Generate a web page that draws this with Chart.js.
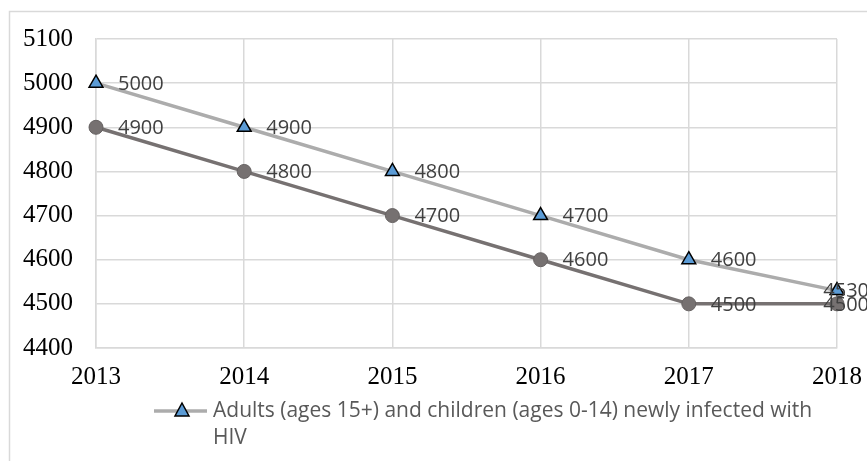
<!DOCTYPE html>
<html>
<head>
<meta charset="utf-8">
<script src="https://cdn.jsdelivr.net/npm/chart.js@4/dist/chart.umd.min.js"></script>
<style>
    html, body { margin: 0; padding: 0; background: #fff; }
    #wrap { position: relative; width: 867px; height: 461px; }
</style>
</head>
<body>
<div id="wrap"><canvas id="hivChart" width="867" height="461"></canvas></div>
<script>
const years = ['2013', '2014', '2015', '2016', '2017', '2018'];
const newlyInfected = [5000, 4900, 4800, 4700, 4600, 4530];
const secondSeries = [4900, 4800, 4700, 4600, 4500, 4500];
const legendLines = ['Adults (ages 15+) and children (ages 0-14) newly infected with', 'HIV'];

const LABEL_FONT = '20px "Open Sans"';
const AXIS_FONT = { family: '"Liberation Serif", "Times New Roman", serif', size: 25 };

// thin frame around the chart, cut off at right and bottom like the source
const framePlugin = {
    id: 'frame',
    beforeDraw(chart) {
        const ctx = chart.ctx;
        ctx.save();
        ctx.strokeStyle = '#d9d9d9';
        ctx.lineWidth = 1.5;
        ctx.beginPath();
        ctx.moveTo(9.5, chart.height);
        ctx.lineTo(9.5, 11.5);
        ctx.lineTo(chart.width, 11.5);
        ctx.stroke();
        ctx.restore();
    },
};

// value labels to the right of each point
const valueLabels = {
    id: 'valueLabels',
    afterDatasetsDraw(chart) {
        const ctx = chart.ctx;
        ctx.save();
        ctx.font = LABEL_FONT;
        ctx.fillStyle = '#404040';
        ctx.textBaseline = 'middle';
        ctx.textAlign = 'left';
        chart.data.datasets.forEach((ds, i) => {
            chart.getDatasetMeta(i).data.forEach((pt, j) => {
                const text = String(ds.data[j]);
                const w = ctx.measureText(text).width;
                const x = Math.min(pt.x + 22, chart.width - w + 2);
                ctx.fillText(text, x, pt.y + 1);
            });
        });
        ctx.restore();
    },
};

// legend with wrapped text (only the triangle series is listed)
const wrapLegend = {
    id: 'wrapLegend',
    afterDraw(chart) {
        const ctx = chart.ctx;
        const y = 411;
        ctx.save();
        ctx.strokeStyle = '#acacac';
        ctx.lineWidth = 3.5;
        ctx.beginPath();
        ctx.moveTo(154, y);
        ctx.lineTo(207, y);
        ctx.stroke();
        ctx.fillStyle = '#5b9bd5';
        ctx.strokeStyle = '#000';
        ctx.lineWidth = 1.5;
        ctx.beginPath();
        ctx.moveTo(182, y - 8);
        ctx.lineTo(189, y + 5);
        ctx.lineTo(175, y + 5);
        ctx.closePath();
        ctx.fill();
        ctx.stroke();
        ctx.font = '21px "Open Sans"';
        ctx.fillStyle = '#595959';
        ctx.textBaseline = 'middle';
        legendLines.forEach((line, i) => ctx.fillText(line, 213, y + i * 27));
        ctx.restore();
    },
};

new Chart(document.getElementById('hivChart'), {
    type: 'line',
    data: {
        labels: years,
        datasets: [
            {
                label: 'Series 2',
                data: secondSeries,
                borderColor: '#767171',
                borderWidth: 3.5,
                pointStyle: 'circle',
                pointRadius: 7,
                pointBackgroundColor: '#767171',
                pointBorderColor: '#666262',
                pointBorderWidth: 1,
                tension: 0,
            },
            {
                label: legendLines.join(' '),
                data: newlyInfected,
                borderColor: '#acacac',
                borderWidth: 3.5,
                pointStyle: 'triangle',
                pointRadius: 8,
                pointBackgroundColor: '#5b9bd5',
                pointBorderColor: '#000',
                pointBorderWidth: 1.5,
                tension: 0,
            },
        ],
    },
    options: {
        responsive: false,
        animation: false,
        layout: { padding: { top: 39, right: 30, left: 0, bottom: 0 } },
        plugins: {
            legend: { display: false },
            tooltip: { enabled: false },
        },
        scales: {
            x: {
                grid: { color: '#d9d9d9', lineWidth: 1.5, drawTicks: false },
                border: { color: '#d9d9d9', width: 1.5 },
                ticks: { color: '#000', font: AXIS_FONT, padding: 14, maxRotation: 0 },
                afterFit(scale) {
                    scale.height = 113;
                    scale.paddingLeft = 0;
                    scale.paddingRight = 0;
                },
            },
            y: {
                min: 4400,
                max: 5100,
                grid: { color: '#d9d9d9', lineWidth: 1.5, drawTicks: false },
                border: { color: '#d9d9d9', width: 1.5 },
                ticks: {
                    color: '#000', font: AXIS_FONT, stepSize: 100, padding: 23,
                    callback: (v) => String(v),
                },
                afterFit(scale) {
                    scale.width = 96;
                    scale.paddingTop = 0;
                    scale.paddingBottom = 0;
                },
            },
        },
    },
    plugins: [framePlugin, valueLabels, wrapLegend],
});
</script>
</body>
</html>
